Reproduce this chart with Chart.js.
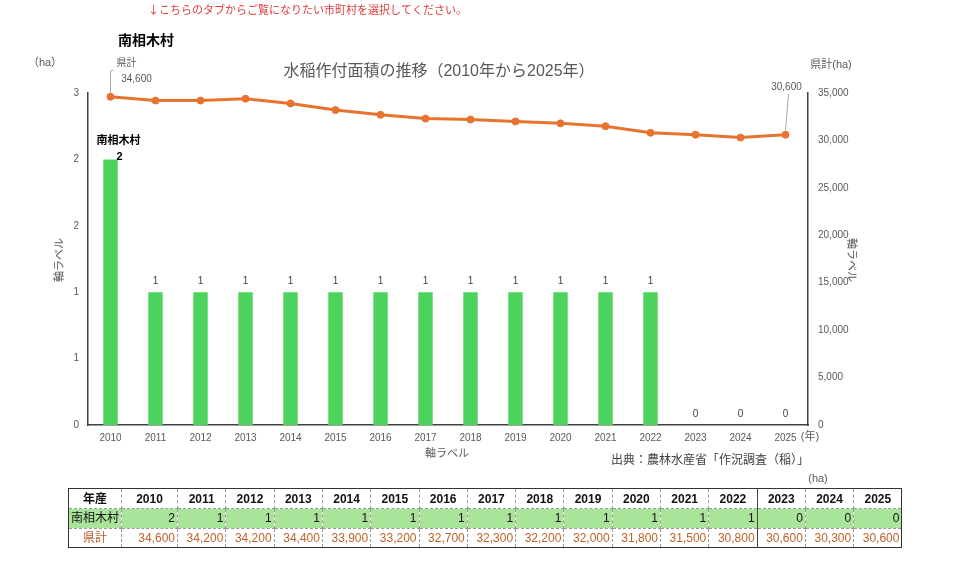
<!DOCTYPE html>
<html><head><meta charset="utf-8">
<script src="https://cdn.jsdelivr.net/npm/chart.js@4.4.1/dist/chart.umd.min.js"></script>
<style>
html,body{margin:0;padding:0;background:#fff;width:960px;height:568px;overflow:hidden;}
#wrap{position:relative;width:960px;height:568px;}
#c{position:absolute;left:0;top:0;}
#tbl{position:absolute;left:68px;top:488px;border-collapse:collapse;border:1.5px solid #333;font-family:"Liberation Sans","Noto Sans CJK JP",sans-serif;font-size:12px;table-layout:fixed;}
#tbl td{border:1px dashed #999;padding:0 2px;height:18.5px;line-height:18px;white-space:nowrap;overflow:hidden;}
#tbl tr.h td{font-weight:bold;text-align:center;color:#111;height:19px;}
#tbl tr.g td{background:#a9e49b;text-align:right;color:#111;}
#tbl tr.o td{text-align:right;color:#c0602a;}
#tbl td.f{text-align:center !important;font-weight:normal;}
#tbl tr.h td.f{font-weight:bold;}
#tbl td.sep{border-right:1.5px solid #444;}
</style></head>
<body><div id="wrap"><canvas id="c" width="960" height="568"></canvas><table id="tbl"></table></div>
<script>
const years = ['2010','2011','2012','2013','2014','2015','2016','2017','2018','2019','2020','2021','2022','2023','2024','2025'];
const villageValues = [2,1,1,1,1,1,1,1,1,1,1,1,1,0,0,0];
const prefValues = [34600,34200,34200,34400,33900,33200,32700,32300,32200,32000,31800,31500,30800,30600,30300,30600];
const leftTicks = {min:0, max:2.5, step:0.5};
const rightTicks = {min:0, max:35000, step:5000};
const villageName = '南相木村';
const prefName = '県計';

const fmt = v => String(Math.round(v)).replace(/\B(?=(\d{3})+(?!\d))/g, ',');
const FONT = '"Liberation Sans","Noto Sans CJK JP",sans-serif';
const GRAY = '#595959';

// table
(function(){
  const t = document.getElementById('tbl');
  const widths = [53,56].concat(Array(15).fill(48.3));
  const cls = i => (years[i]==='2022' ? ' class="sep"' : '');
  let cg = '<colgroup>' + widths.map(w=>'<col style="width:'+w+'px">').join('') + '</colgroup>';
  let h = '<tr class="h"><td class="f">年産</td>' + years.map((y,i)=>'<td'+cls(i)+'>'+y+'</td>').join('') + '</tr>';
  let g = '<tr class="g"><td class="f">'+villageName+'</td>' + villageValues.map((v,i)=>'<td'+cls(i)+'>'+fmt(v)+'</td>').join('') + '</tr>';
  let o = '<tr class="o"><td class="f" style="color:#c0602a">'+prefName+'</td>' + prefValues.map((v,i)=>'<td'+cls(i)+'>'+fmt(v)+'</td>').join('') + '</tr>';
  t.innerHTML = cg + h + g + o;
})();

const extras = {
  id:'extras',
  afterDatasetsDraw(chart){
    const ctx = chart.ctx;
    ctx.save();
    const bm = chart.getDatasetMeta(0);
    ctx.textAlign='center'; ctx.textBaseline='middle';
    bm.data.forEach((el,i)=>{
      if(i===0){
        ctx.font='bold 11px '+FONT; ctx.fillStyle='#000';
        ctx.fillText(villageName, el.x+8, el.y-18);
        ctx.textAlign='left';
        ctx.fillText(fmt(villageValues[i]), el.x+6, el.y-2);
        ctx.textAlign='center';
      } else {
        ctx.font='10px '+FONT; ctx.fillStyle='#404040';
        ctx.fillText(fmt(villageValues[i]), el.x, el.y-11);
      }
    });
    const lm = chart.getDatasetMeta(1);
    const p0 = lm.data[0], pN = lm.data[lm.data.length-1];
    ctx.strokeStyle='#a6a6a6'; ctx.lineWidth=1;
    ctx.beginPath(); ctx.moveTo(p0.x, p0.y-4); ctx.lineTo(p0.x, 71); ctx.lineTo(p0.x+3, 70); ctx.stroke();
    ctx.beginPath(); ctx.moveTo(pN.x, pN.y-4); ctx.lineTo(pN.x+3, 94); ctx.stroke();
    ctx.font='10px '+FONT; ctx.fillStyle=GRAY;
    ctx.fillText(prefName, p0.x+16, 63);
    ctx.fillText(fmt(prefValues[0]), p0.x+26, 79);
    ctx.fillText(fmt(prefValues[prefValues.length-1]), pN.x+1, 87);
    ctx.restore();
  },
  afterDraw(chart){
    const ctx = chart.ctx;
    ctx.save();
    ctx.textBaseline='middle';
    ctx.textAlign='left';
    ctx.font='11px "Noto Sans CJK JP",sans-serif'; ctx.fillStyle='#e03a3a';
    ctx.fillText('↓こちらのタブからご覧になりたい市町村を選択してください。', 148, 10);
    ctx.font='bold 14px "Noto Sans CJK JP",sans-serif'; ctx.fillStyle='#000';
    ctx.fillText(villageName, 118, 40);
    ctx.textAlign='center';
    ctx.font='16px '+FONT; ctx.fillStyle=GRAY;
    ctx.fillText('水稲作付面積の推移（2010年から2025年）', 439, 72);
    ctx.font='11px '+FONT; ctx.fillStyle=GRAY;
    ctx.fillText('（ha）', 45, 63);
    ctx.fillText('県計(ha)', 831, 65);
    ctx.fillText('(年)', 810, 437);
    ctx.fillText('軸ラベル', 447, 454);
    ctx.font='12px '+FONT; ctx.fillStyle='#404040';
    ctx.fillText('出典：農林水産省「作況調査（稲）」', 710, 461);
    ctx.font='11px '+FONT; ctx.fillStyle=GRAY;
    ctx.fillText('(ha)', 818, 479);
    ctx.save(); ctx.translate(60, 260); ctx.rotate(-Math.PI/2);
    ctx.fillText('軸ラベル', 0, 0); ctx.restore();
    ctx.save(); ctx.translate(851, 260); ctx.rotate(Math.PI/2);
    ctx.fillText('軸ラベル', 0, 0); ctx.restore();
    ctx.restore();
  }
};

new Chart(document.getElementById('c'), {
  data:{
    labels: years,
    datasets:[
      {type:'bar', label:villageName, data:villageValues, yAxisID:'y', backgroundColor:'#4cd35c', barPercentage:0.32, categoryPercentage:1, order:2},
      {type:'line', label:prefName, data:prefValues, yAxisID:'y2', borderColor:'#e8732e', backgroundColor:'#e8732e', borderWidth:3, pointRadius:3.5, pointHoverRadius:3.5, pointBorderWidth:1, tension:0, order:1}
    ]
  },
  options:{
    responsive:false, animation:false, devicePixelRatio:1,
    layout:{padding:{left:0,right:0,top:93,bottom:113}},
    plugins:{legend:{display:false}, tooltip:{enabled:false}, title:{display:false}},
    scales:{
      x:{
        grid:{display:false, drawTicks:false},
        border:{display:true, color:'#404040', width:1.5},
        ticks:{color:GRAY, font:{size:10, family:FONT}, padding:7, maxRotation:0, autoSkip:false},
        afterFit(s){ s.height = 30; }
      },
      y:{
        position:'left', min:leftTicks.min, max:leftTicks.max,
        grid:{display:false, drawTicks:false},
        border:{display:true, color:'#404040', width:1.5},
        ticks:{stepSize:leftTicks.step, color:GRAY, font:{size:10, family:FONT}, padding:9, callback:v=>fmt(v)},
        afterFit(s){ s.width = 88; }
      },
      y2:{
        position:'right', min:rightTicks.min, max:rightTicks.max,
        grid:{display:false, drawTicks:false},
        border:{display:true, color:'#404040', width:1.5},
        ticks:{stepSize:rightTicks.step, color:GRAY, font:{size:10, family:FONT}, padding:10, callback:v=>fmt(v)},
        afterFit(s){ s.width = 152; }
      }
    }
  },
  plugins:[extras]
});
</script></body></html>
